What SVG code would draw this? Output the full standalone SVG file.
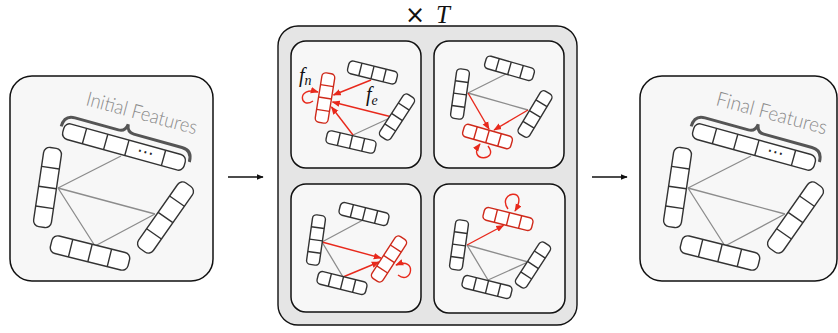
<svg xmlns="http://www.w3.org/2000/svg" width="838" height="333" viewBox="0 0 838 333">
<style>
.panel{fill:#f7f7f7;stroke:#111;stroke-width:1.5}
.outer{fill:#e5e5e5;stroke:#111;stroke-width:1.4}
.k{stroke:#333;stroke-width:1.4}
.r{stroke:#cf2a1b;stroke-width:1.4}
.ge{stroke:#8c8c8c;stroke-width:1.3;fill:none}
.re{stroke:#e8291c;stroke-width:1.4;fill:none;marker-end:url(#ar)}
.lbl{font-family:Lato,"Open Sans",sans-serif;font-weight:300;font-size:20px;fill:#8a8a8a}
.math{font-family:"Liberation Serif",serif;font-style:italic;fill:#111}
</style>
<defs>
<marker id="ar" viewBox="0 0 10 10" refX="9" refY="5" markerWidth="8" markerHeight="8" markerUnits="userSpaceOnUse" orient="auto"><path d="M0,1 L10,5 L0,9 z" fill="#e8291c"/></marker>
<marker id="ak" viewBox="0 0 10 10" refX="9" refY="5" markerWidth="7" markerHeight="7" markerUnits="userSpaceOnUse" orient="auto"><path d="M0,1 L10,5 L0,9 z" fill="#111"/></marker>
<g id="sb"><rect x="-25" y="-6.5" width="50" height="13" rx="4" fill="#fff"/><path d="M-12.5,-6.5V6.5M0,-6.5V6.5M12.5,-6.5V6.5" fill="none"/></g>
<g id="bb"><rect x="-40" y="-9" width="80" height="18" rx="6" fill="#fff"/><path d="M-20,-9V9M0,-9V9M20,-9V9" fill="none"/></g>
<g id="bigGraph">
<path class="ge" d="M58,188L121,156M58,188L155,214M58,188L95,246M95,246L155,214"/>
<g transform="translate(124,147) rotate(15.5)">
<rect class="k" x="-63" y="-8" width="126" height="16" rx="6" fill="#fff"/>
<path class="k" d="M-41,-8V8M-19,-8V8M3,-8V8M41,-8V8" fill="none"/>
<text x="22" y="4.5" text-anchor="middle" font-family="DejaVu Sans,sans-serif" font-size="17" fill="#222">⋯</text>
<path d="M-66,-3 Q-66,-15 -55,-15 L-10,-15 Q-3,-15 -2,-23 Q-1,-15 6,-15 L56,-15 Q67,-15 67,-3" fill="none" stroke="#555" stroke-width="3"/>
</g>
<use href="#bb" class="k" transform="translate(47.5,187.5) rotate(98.4)"/>
<use href="#bb" class="k" transform="translate(90,253) rotate(14)"/>
<use href="#bb" class="k" transform="translate(165.5,217.5) rotate(125)"/>
</g>
</defs>

<g id="connectors">
<path d="M228,177 L263,177" stroke="#111" stroke-width="1.3" marker-end="url(#ak)"/>
<path d="M592,177 L627,177" stroke="#111" stroke-width="1.3" marker-end="url(#ak)"/>
</g>

<g id="initial-features">
<rect class="panel" x="10" y="76" width="203" height="205" rx="22"/>
<use href="#bigGraph"/>
<text class="lbl" transform="translate(85,105) rotate(15)" textLength="114" lengthAdjust="spacingAndGlyphs">Initial Features</text>
</g>

<g id="final-features">
<rect class="panel" x="640" y="76" width="197" height="205" rx="22"/>
<use href="#bigGraph" transform="translate(630,0)"/>
<text class="lbl" transform="translate(715,105) rotate(15)" textLength="114" lengthAdjust="spacingAndGlyphs">Final Features</text>
</g>

<g id="gnn-block">
<rect class="outer" x="278" y="26" width="299" height="299" rx="20"/>
<text y="23" text-anchor="middle" font-family="Liberation Serif,serif" font-size="25" fill="#111"><tspan x="415" font-family="DejaVu Sans,sans-serif" font-size="24">×</tspan><tspan x="443" font-style="italic">T</tspan></text>

<g id="step-1">
<rect class="panel" x="291" y="41" width="130" height="127" rx="15"/>
<path class="ge" d="M353,135 L392,117"/>
<path class="re" d="M371,80 L333.5,95"/>
<path class="re" d="M392,117 L332.5,102"/>
<path class="re" d="M353,135 L331.5,107"/>
<use href="#sb" class="k" transform="translate(372.5,72.5) rotate(14)"/>
<use href="#sb" class="k" transform="translate(397,117) rotate(123)"/>
<use href="#sb" class="k" transform="translate(351,142) rotate(13)"/>
<use href="#sb" class="r" transform="translate(325,98) rotate(99)"/>
<path class="re" d="M313,101 C300,110 296,86 318,92"/>
<text class="math" x="299" y="82" font-size="20">f<tspan font-size="14" dy="2.5">n</tspan></text>
<text class="math" x="366" y="101" font-size="20">f<tspan font-size="14" dy="3.5">e</tspan></text>
</g>

<g id="step-2">
<rect class="panel" x="434" y="41" width="130" height="127" rx="15"/>
<path class="ge" d="M468,93 L508,73 M468,93 L528,110"/>
<path class="re" d="M468,93 L489,129"/>
<path class="re" d="M528,110 L494,130"/>
<use href="#sb" class="k" transform="translate(460,94) rotate(98)"/>
<use href="#sb" class="k" transform="translate(509.5,68.3) rotate(16)"/>
<use href="#sb" class="k" transform="translate(535,114) rotate(121)"/>
<use href="#sb" class="r" transform="translate(487.5,136.5) rotate(16)"/>
<path class="re" d="M488,146 C500,162 466,162 480,144"/>
</g>

<g id="step-3">
<rect class="panel" x="291" y="184" width="130" height="128" rx="15"/>
<path class="ge" d="M322,242 L363,220 M322,242 L343,277"/>
<path class="re" d="M322,242 L381,258"/>
<path class="re" d="M343,277 L379,262"/>
<use href="#sb" class="k" transform="translate(316,240) rotate(98)"/>
<use href="#sb" class="k" transform="translate(364,214) rotate(14)"/>
<use href="#sb" class="k" transform="translate(342,283) rotate(14)"/>
<use href="#sb" class="r" transform="translate(389,259) rotate(123)"/>
<path class="re" d="M398,275 C412,286 418,256 396,265"/>
</g>

<g id="step-4">
<rect class="panel" x="434" y="184" width="131" height="129" rx="15"/>
<path class="ge" d="M467,245 L528,262 M467,245 L488,280 M488,280 L528,262"/>
<path class="re" d="M467,245 L503.5,225.5"/>
<use href="#sb" class="k" transform="translate(459,245) rotate(98)"/>
<use href="#sb" class="k" transform="translate(533,265) rotate(123)"/>
<use href="#sb" class="k" transform="translate(487,287) rotate(14)"/>
<use href="#sb" class="r" transform="translate(508,219) rotate(14)"/>
<path class="re" d="M508,209 C496,192 530,186 515,211"/>
</g>
</g>
</svg>
